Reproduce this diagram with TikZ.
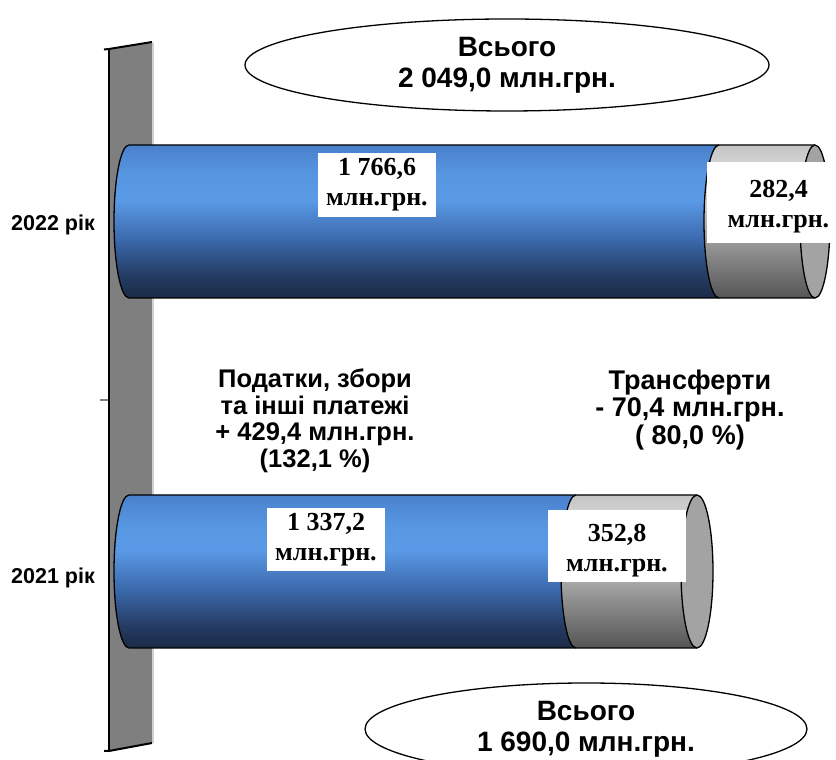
\documentclass[tikz,border=0pt]{standalone}
\usepackage{fontspec}
\setmainfont{Liberation Serif}
\setsansfont{Liberation Sans}
\usetikzlibrary{shapes.geometric}
\definecolor{wallgray}{HTML}{7F7F7F}
\definecolor{wallhi}{HTML}{D0D0D0}
\definecolor{capgray}{HTML}{A3A3A3}
\definecolor{bA}{HTML}{1B2A46}
\definecolor{bB}{HTML}{243B62}
\definecolor{bC}{HTML}{3D6CB0}
\definecolor{bD}{HTML}{5A9AE6}
\definecolor{bE}{HTML}{5797E2}
\definecolor{bF}{HTML}{4A80CC}
\definecolor{gA}{HTML}{555555}
\definecolor{gB}{HTML}{8C8C8C}
\definecolor{gC}{HTML}{D2D2D2}
\definecolor{gD}{HTML}{DCDCDC}
\definecolor{gE}{HTML}{C4C4C4}
\pgfdeclareverticalshading{bluecyl}{100bp}{color(0bp)=(bA); color(25bp)=(bA); color(32bp)=(bB); color(45bp)=(bC); color(57bp)=(bD); color(65bp)=(bE); color(75bp)=(bF); color(100bp)=(bF)}
\pgfdeclareverticalshading{graycyl}{100bp}{color(0bp)=(gA); color(25bp)=(gA); color(40bp)=(gB); color(57bp)=(gC); color(65bp)=(gD); color(75bp)=(gE); color(100bp)=(gE)}
\tikzset{
  outline/.style={draw=black, line width=1.3pt},
  valbox/.style={fill=white, inner sep=0pt, align=center, font=\bfseries\fontsize{26}{30}\selectfont},
  totalell/.style={ellipse, draw=black, line width=1.3pt, fill=white, inner sep=0pt, align=center, font=\sffamily\bfseries\fontsize{28}{31}\selectfont},
  midtext/.style={align=center, inner sep=0pt, font=\sffamily\bfseries\fontsize{25.5}{26.5}\selectfont},
  yearlbl/.style={inner sep=0pt, font=\sffamily\bfseries\fontsize{21.5}{24}\selectfont}
}
\begin{document}
\begin{tikzpicture}[x=1pt,y=1pt]
\useasboundingbox (0,0) rectangle (836,760);
\clip (0,0) rectangle (836,760);
% wall
\fill[wallgray] (109,711) -- (152,718) -- (152,17) -- (109,9) -- cycle;
\draw[wallhi, line width=1.5pt] (152.8,717) -- (152.8,17);
\draw[line width=2pt] (104,710.5) -- (109,711) -- (152,718);
\draw[line width=2.6pt] (109,711) -- (109,9);
\draw[line width=2pt] (104,9) -- (109,9) -- (152,17);
\draw[gray, line width=1.5pt] (100,360) -- (107.5,360);
% 2022 cylinder
\path[shading=bluecyl] (719,615) -- (129,615) arc[start angle=90,end angle=270,x radius=15,y radius=76.5] -- (719,462) arc[start angle=270,end angle=90,x radius=15,y radius=76.5] -- cycle;
\path[shading=graycyl] (719,615) -- (815,615) arc[start angle=90,end angle=-90,x radius=15,y radius=76.5] -- (719,462) arc[start angle=270,end angle=90,x radius=15,y radius=76.5] -- cycle;
\draw[outline, fill=capgray] (815,538.5) ellipse[x radius=15,y radius=76.5];
\draw[outline] (815,615) -- (129,615) arc[start angle=90,end angle=270,x radius=15,y radius=76.5] -- (815,462);
\draw[outline] (719,462) arc[start angle=270,end angle=90,x radius=15,y radius=76.5];
% 2021 cylinder
\path[shading=bluecyl] (576,265) -- (129,265) arc[start angle=90,end angle=270,x radius=15,y radius=76.5] -- (576,112) arc[start angle=270,end angle=90,x radius=15,y radius=76.5] -- cycle;
\path[shading=graycyl] (576,265) -- (697,265) arc[start angle=90,end angle=-90,x radius=16,y radius=76.5] -- (576,112) arc[start angle=270,end angle=90,x radius=15,y radius=76.5] -- cycle;
\draw[outline, fill=capgray] (697,188.5) ellipse[x radius=16,y radius=76.5];
\draw[outline] (697,265) -- (129,265) arc[start angle=90,end angle=270,x radius=15,y radius=76.5] -- (697,112);
\draw[outline] (576,112) arc[start angle=270,end angle=90,x radius=15,y radius=76.5];
% value boxes
\node[valbox, minimum width=118pt, minimum height=64pt] (v22a) at (377,575) {1 766,6\\млн.грн.};
\node[valbox, minimum width=143pt, minimum height=81pt] (v22b) at (778.5,557.5) {};
\node[inner sep=0pt, align=center, font=\bfseries\fontsize{26}{30}\selectfont] (v22bt) at (778.5,553.5) {282,4\\млн.грн.};
\node[valbox, minimum width=118pt, minimum height=63pt] (v21a) at (326,220.5) {1 337,2\\млн.грн.};
\node[valbox, minimum width=138pt, minimum height=72pt] (v21b) at (617,214) {};
\node[inner sep=0pt, align=center, font=\bfseries\fontsize{26}{30}\selectfont] (v21bt) at (617,209) {352,8\\млн.грн.};
% totals
\node[totalell, minimum width=524pt, minimum height=92pt] (tot22) at (507,695) {Всього\\2 049,0 млн.грн.};
\node[totalell, minimum width=442pt, minimum height=92pt] (tot21) at (586,31) {Всього\\1 690,0 млн.грн.};
% middle texts
\node[midtext] (taxes) at (315,339) {Податки, збори\\та інші платежі\\+ 429,4 млн.грн.\\(132,1 \%)};
\node[midtext, font=\sffamily\bfseries\fontsize{27}{27.5}\selectfont] (transf) at (690,350) {Трансферти\\- 70,4 млн.грн.\\( 80,0 \%)};
% years
\node[yearlbl] (y22) at (53,535) {2022 рік};
\node[yearlbl] (y21) at (53,182) {2021 рік};
\end{tikzpicture}
\end{document}
